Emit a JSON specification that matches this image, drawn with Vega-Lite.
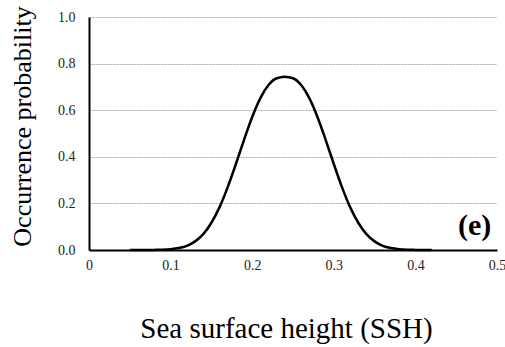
{
  "$schema": "https://vega.github.io/schema/vega-lite/v6.json",
  "width": 408,
  "height": 233,
  "autosize": {"type": "none"},
  "padding": {"left": 89, "top": 17, "right": 8, "bottom": 97},
  "background": "white",
  "config": {
    "view": {"stroke": null},
    "font": "Liberation Serif"
  },
  "datasets": {
    "curve": [
      {"ssh": 0.05, "p": 0.0},
      {"ssh": 0.06, "p": 0.0},
      {"ssh": 0.07, "p": 0.0},
      {"ssh": 0.08, "p": 0.0005},
      {"ssh": 0.09, "p": 0.0013},
      {"ssh": 0.10, "p": 0.0035},
      {"ssh": 0.11, "p": 0.0084},
      {"ssh": 0.12, "p": 0.018},
      {"ssh": 0.13, "p": 0.037},
      {"ssh": 0.14, "p": 0.068},
      {"ssh": 0.15, "p": 0.117},
      {"ssh": 0.16, "p": 0.184},
      {"ssh": 0.17, "p": 0.270},
      {"ssh": 0.18, "p": 0.369},
      {"ssh": 0.19, "p": 0.473},
      {"ssh": 0.20, "p": 0.571},
      {"ssh": 0.21, "p": 0.652},
      {"ssh": 0.22, "p": 0.708},
      {"ssh": 0.23, "p": 0.737},
      {"ssh": 0.24, "p": 0.744},
      {"ssh": 0.25, "p": 0.737},
      {"ssh": 0.26, "p": 0.708},
      {"ssh": 0.27, "p": 0.652},
      {"ssh": 0.28, "p": 0.571},
      {"ssh": 0.29, "p": 0.473},
      {"ssh": 0.30, "p": 0.369},
      {"ssh": 0.31, "p": 0.270},
      {"ssh": 0.32, "p": 0.184},
      {"ssh": 0.33, "p": 0.117},
      {"ssh": 0.34, "p": 0.068},
      {"ssh": 0.35, "p": 0.037},
      {"ssh": 0.36, "p": 0.018},
      {"ssh": 0.37, "p": 0.0084},
      {"ssh": 0.38, "p": 0.0035},
      {"ssh": 0.39, "p": 0.0013},
      {"ssh": 0.40, "p": 0.0005},
      {"ssh": 0.41, "p": 0.0},
      {"ssh": 0.42, "p": 0.0}
    ],
    "label": [{"ssh": 0.493, "p": 0.064, "text": "(e)"}]
  },
  "layer": [
    {
      "data": {"name": "curve"},
      "mark": {"type": "line", "color": "black", "strokeWidth": 2.5, "interpolate": "monotone"},
      "encoding": {
        "x": {
          "field": "ssh", "type": "quantitative",
          "scale": {"domain": [0, 0.5], "nice": false},
          "axis": {
            "values": [0, 0.1, 0.2, 0.3, 0.4, 0.5],
            "format": ".1~f",
            "grid": false,
            "ticks": false,
            "domainColor": "black",
            "domainWidth": 2,
            "labelFont": "Liberation Serif",
            "labelFontSize": 14,
            "labelColor": "#222",
            "labelPadding": 8,
            "labelFlush": false,
            "title": "Sea surface height (SSH)",
            "titleFont": "Liberation Serif",
            "titleFontSize": 29,
            "titleFontWeight": "normal",
            "titleColor": "black",
            "titleX": 197,
            "titleY": 87,
            "titleAlign": "center",
            "titleBaseline": "alphabetic"
          }
        },
        "y": {
          "field": "p", "type": "quantitative",
          "scale": {"domain": [0, 1], "nice": false},
          "axis": {
            "values": [0, 0.2, 0.4, 0.6, 0.8, 1.0],
            "format": ".1f",
            "grid": true,
            "gridColor": "#aaaaaa",
            "gridDash": [2, 1],
            "gridWidth": 1,
            "ticks": false,
            "domainColor": "black",
            "domainWidth": 2,
            "labelFont": "Liberation Serif",
            "labelFontSize": 14,
            "labelColor": "#222",
            "labelPadding": 14,
            "labelFlush": false,
            "title": "Occurrence probability",
            "titleFont": "Liberation Serif",
            "titleFontSize": 26,
            "titleFontWeight": "normal",
            "titleColor": "black",
            "titleAngle": -90,
            "titleX": -67,
            "titleY": 109,
            "titleAlign": "center",
            "titleBaseline": "middle"
          }
        }
      }
    },
    {
      "data": {"name": "label"},
      "mark": {"type": "text", "font": "Liberation Serif", "fontSize": 30, "fontWeight": "bold", "align": "right", "baseline": "alphabetic", "color": "black"},
      "encoding": {
        "x": {"field": "ssh", "type": "quantitative"},
        "y": {"field": "p", "type": "quantitative"},
        "text": {"field": "text"}
      }
    }
  ]
}
